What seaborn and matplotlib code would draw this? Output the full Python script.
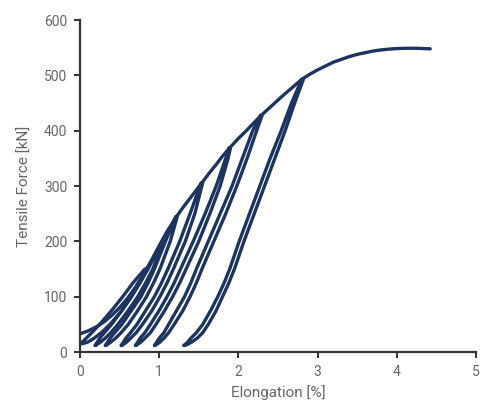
import numpy as np
import pandas as pd
import matplotlib
matplotlib.use("Agg")
import matplotlib.pyplot as plt
import seaborn as sns

# envelope (virgin loading curve)
env_x = [0.0, 0.1, 0.2, 0.3, 0.4, 0.5, 0.6, 0.7, 0.8, 0.9, 1.0, 1.1, 1.22, 1.30, 1.38,
         1.46, 1.54, 1.63, 1.72, 1.80, 1.89, 2.00, 2.10, 2.20, 2.29, 2.42, 2.55, 2.68,
         2.80, 2.90, 3.00, 3.10, 3.20, 3.30, 3.40, 3.50, 3.60, 3.70, 3.80, 3.90, 4.00,
         4.13, 4.25, 4.42]
env_f = [33, 38, 45, 54, 66, 80, 97, 117, 140, 165, 192, 218, 245, 261, 276,
         291, 306, 323, 339, 354, 369, 386, 400, 415, 428, 445, 462, 478,
         493, 502, 510, 517, 524, 529, 534, 538, 541, 544, 546, 547.5, 548.5,
         549, 549, 548]

# unloading (right) and reloading (left) branches of each cycle
loop_g_f = [150, 125, 100, 75, 50, 35, 25, 18, 15]
loop_g_unload = [0.84, 0.75, 0.65, 0.53, 0.38, 0.27, 0.18, 0.10, 0.03]
loop_g_reload = [0.82, 0.67, 0.54, 0.40, 0.25, 0.15, 0.08, 0.03, 0.00]

loop_f_f = [200, 150, 125, 100, 75, 50, 35, 25, 18, 14, 12]
loop_f_unload = [1.06, 0.92, 0.83, 0.73, 0.61, 0.48, 0.39, 0.32, 0.26, 0.22, 0.20]
loop_f_reload = [1.04, 0.86, 0.76, 0.65, 0.53, 0.40, 0.31, 0.25, 0.22, 0.20, 0.19]

loop_e_f = [245, 200, 150, 125, 100, 75, 50, 35, 25, 18, 14, 12]
loop_e_unload = [1.23, 1.14, 1.01, 0.93, 0.84, 0.73, 0.61, 0.52, 0.45, 0.39, 0.35, 0.33]
loop_e_reload = [1.21, 1.08, 0.94, 0.86, 0.77, 0.65, 0.53, 0.44, 0.38, 0.35, 0.33, 0.32]

loop_d_f = [306, 250, 200, 150, 125, 100, 75, 50, 35, 25, 18, 14, 12]
loop_d_unload = [1.55, 1.45, 1.33, 1.18, 1.10, 1.01, 0.91, 0.79, 0.71, 0.64, 0.59, 0.55, 0.53]
loop_d_reload = [1.53, 1.39, 1.26, 1.11, 1.03, 0.94, 0.83, 0.72, 0.64, 0.58, 0.55, 0.53, 0.52]

loop_c_f = [369, 350, 300, 250, 200, 150, 125, 100, 75, 50, 35, 25, 18, 14, 12]
loop_c_unload = [1.90, 1.87, 1.77, 1.64, 1.50, 1.34, 1.26, 1.17, 1.07, 0.96, 0.89, 0.82,
                 0.77, 0.73, 0.71]
loop_c_reload = [1.88, 1.84, 1.72, 1.58, 1.43, 1.27, 1.19, 1.10, 1.00, 0.89, 0.82, 0.76,
                 0.73, 0.71, 0.70]

loop_b_f = [428, 400, 350, 300, 250, 200, 150, 125, 100, 75, 50, 35, 25, 18, 14, 12]
loop_b_unload = [2.30, 2.23, 2.11, 1.98, 1.84, 1.69, 1.54, 1.47, 1.39, 1.30, 1.19, 1.12,
                 1.06, 1.01, 0.97, 0.95]
loop_b_reload = [2.28, 2.18, 2.05, 1.92, 1.77, 1.62, 1.47, 1.40, 1.32, 1.22, 1.12, 1.06,
                 1.00, 0.97, 0.95, 0.94]

loop_a_f = [493, 450, 400, 350, 300, 250, 200, 150, 125, 100, 75, 50, 35, 25, 18, 14, 12]
loop_a_unload = [2.82, 2.71, 2.59, 2.46, 2.33, 2.20, 2.07, 1.95, 1.88, 1.80, 1.72, 1.62,
                 1.55, 1.48, 1.41, 1.36, 1.32]
loop_a_reload = [2.80, 2.67, 2.54, 2.40, 2.27, 2.14, 2.01, 1.89, 1.82, 1.74, 1.65, 1.55,
                 1.47, 1.40, 1.36, 1.33, 1.31]

loops = {
    "g": (loop_g_f, loop_g_unload, loop_g_reload),
    "f": (loop_f_f, loop_f_unload, loop_f_reload),
    "e": (loop_e_f, loop_e_unload, loop_e_reload),
    "d": (loop_d_f, loop_d_unload, loop_d_reload),
    "c": (loop_c_f, loop_c_unload, loop_c_reload),
    "b": (loop_b_f, loop_b_unload, loop_b_reload),
    "a": (loop_a_f, loop_a_unload, loop_a_reload),
}

rows = []
for i, (x, f) in enumerate(zip(env_x, env_f)):
    rows.append(("envelope", i, x, f))
for name, (ff, xu, xr) in loops.items():
    # unloading goes down, reloading comes back up
    seq = list(zip(xu, ff)) + list(zip(xr, ff))[::-1]
    for i, (x, f) in enumerate(seq):
        rows.append((name, i, x, f))
df = pd.DataFrame(rows, columns=["segment", "step", "elongation", "force"])

sns.set_style("ticks")
plt.rcParams["font.family"] = ["Roboto", "DejaVu Sans"]

color = "#1d3461"
grey = "#666666"

fig = plt.figure(figsize=(4.81, 4.01), dpi=100)
ax = fig.add_axes([0.166, 0.122, 0.824, 0.828])

sns.lineplot(data=df, x="elongation", y="force", units="segment", estimator=None,
             sort=False, color=color, linewidth=2.4, ax=ax,
             solid_capstyle="round", solid_joinstyle="round")

ax.set_xlim(0, 5)
ax.set_ylim(0, 600)
ax.set_xticks([0, 1, 2, 3, 4, 5])
ax.set_yticks([0, 100, 200, 300, 400, 500, 600])
ax.set_xlabel("Elongation [%]", fontsize=11, color=grey, labelpad=5)
ax.set_ylabel("Tensile Force [kN]", fontsize=11, color=grey, labelpad=9)

sns.despine(ax=ax)
for s in ["left", "bottom"]:
    ax.spines[s].set_color("#333333")
    ax.spines[s].set_linewidth(1.6)
ax.tick_params(colors="#333333", labelcolor=grey, labelsize=10, width=1.4, length=4, pad=5)

fig.savefig("out.png", dpi=100)
